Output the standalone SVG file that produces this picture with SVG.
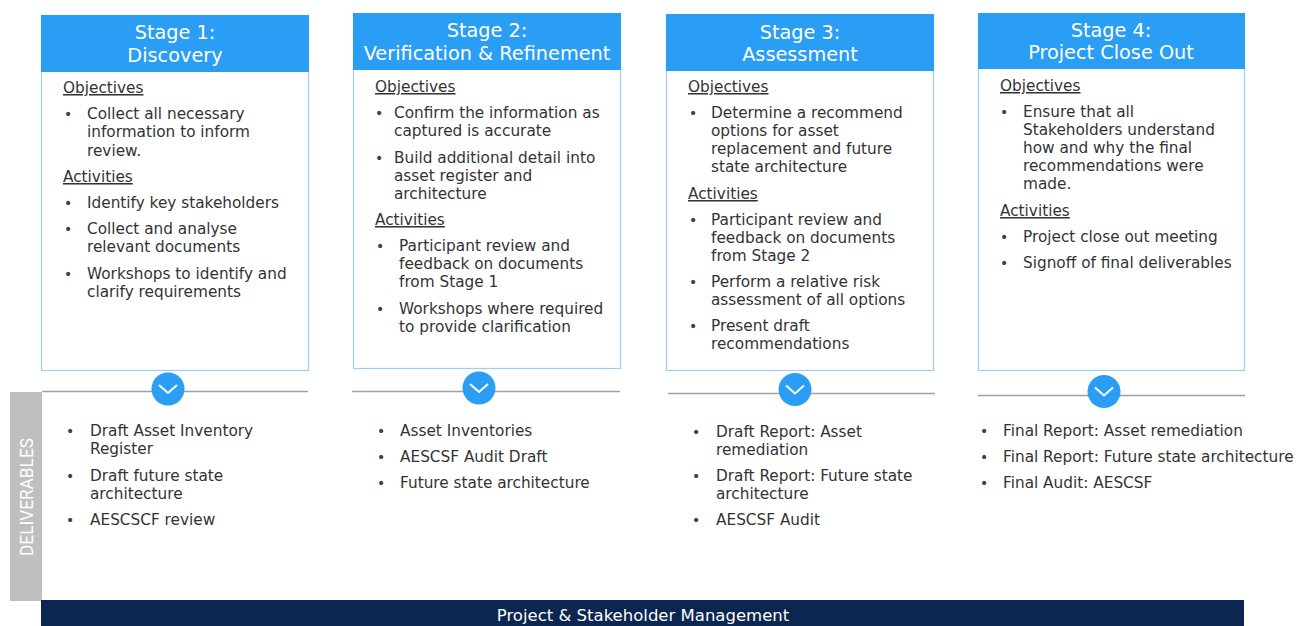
<svg xmlns="http://www.w3.org/2000/svg" width="1299" height="626" viewBox="0 0 1299 626">
<style>
.hdr{fill:#2a9df4}
.box{fill:#ffffff;stroke:#9ccff6;stroke-width:1.2}
.ttl{font-family:"DejaVu Sans",Verdana,sans-serif;font-size:19.3px;fill:#ffffff;text-anchor:middle}
.t{font-family:"DejaVu Sans",Verdana,sans-serif;font-size:15.3px;fill:#333333}
.h{font-family:"DejaVu Sans",Verdana,sans-serif;font-size:15.3px;fill:#333333;text-decoration:underline}
.b{font-family:"DejaVu Sans",Verdana,sans-serif;font-size:14px;fill:#404040}
.div{stroke:#a0a0a0;stroke-width:1.5}
.circ{fill:#2a9df4}
.chev{fill:none;stroke:#ffffff;stroke-width:2}
</style>

<g id="stage1">
<rect class="box" x="41.5" y="15.5" width="267" height="355"/>
<rect class="hdr" x="41" y="15" width="268" height="57"/>
<text class="ttl" x="175" y="39">Stage 1:</text>
<text class="ttl" x="175" y="62">Discovery</text>
<text class="h" x="63" y="93">Objectives</text>
<text class="b" x="64" y="119">•</text>
<text class="t" x="87" y="119">Collect all necessary</text>
<text class="t" x="87" y="137">information to inform</text>
<text class="t" x="87" y="156">review.</text>
<text class="h" x="63" y="182">Activities</text>
<text class="b" x="64" y="208">•</text>
<text class="t" x="87" y="208">Identify key stakeholders</text>
<text class="b" x="64" y="234">•</text>
<text class="t" x="87" y="234">Collect and analyse</text>
<text class="t" x="87" y="252">relevant documents</text>
<text class="b" x="64" y="279">•</text>
<text class="t" x="87" y="279">Workshops to identify and</text>
<text class="t" x="87" y="297">clarify requirements</text>
</g>

<g id="stage2">
<rect class="box" x="353.5" y="13.5" width="267" height="355"/>
<rect class="hdr" x="353" y="13" width="268" height="57"/>
<text class="ttl" x="487" y="37">Stage 2:</text>
<text class="ttl" x="487" y="60">Verification &amp; Refinement</text>
<text class="h" x="375" y="92">Objectives</text>
<text class="b" x="375" y="118">•</text>
<text class="t" x="394" y="118">Confirm the information as</text>
<text class="t" x="394" y="136">captured is accurate</text>
<text class="b" x="375" y="163">•</text>
<text class="t" x="394" y="163">Build additional detail into</text>
<text class="t" x="394" y="181">asset register and</text>
<text class="t" x="394" y="199">architecture</text>
<text class="h" x="375" y="225">Activities</text>
<text class="b" x="376" y="251">•</text>
<text class="t" x="399" y="251">Participant review and</text>
<text class="t" x="399" y="269">feedback on documents</text>
<text class="t" x="399" y="287">from Stage 1</text>
<text class="b" x="376" y="314">•</text>
<text class="t" x="399" y="314">Workshops where required</text>
<text class="t" x="399" y="332">to provide clarification</text>
</g>

<g id="stage3">
<rect class="box" x="666.5" y="14.5" width="267" height="356"/>
<rect class="hdr" x="666" y="14" width="268" height="57"/>
<text class="ttl" x="800" y="39">Stage 3:</text>
<text class="ttl" x="800" y="61">Assessment</text>
<text class="h" x="688" y="92">Objectives</text>
<text class="b" x="689" y="118">•</text>
<text class="t" x="711" y="118">Determine a recommend</text>
<text class="t" x="711" y="136">options for asset</text>
<text class="t" x="711" y="154">replacement and future</text>
<text class="t" x="711" y="172">state architecture</text>
<text class="h" x="688" y="199">Activities</text>
<text class="b" x="689" y="225">•</text>
<text class="t" x="711" y="225">Participant review and</text>
<text class="t" x="711" y="243">feedback on documents</text>
<text class="t" x="711" y="261">from Stage 2</text>
<text class="b" x="689" y="287">•</text>
<text class="t" x="711" y="287">Perform a relative risk</text>
<text class="t" x="711" y="305">assessment of all options</text>
<text class="b" x="689" y="331">•</text>
<text class="t" x="711" y="331">Present draft</text>
<text class="t" x="711" y="349">recommendations</text>
</g>

<g id="stage4">
<rect class="box" x="978.5" y="13.5" width="266" height="357"/>
<rect class="hdr" x="978" y="13" width="267" height="56"/>
<text class="ttl" x="1111" y="37">Stage 4:</text>
<text class="ttl" x="1111" y="59">Project Close Out</text>
<text class="h" x="1000" y="91">Objectives</text>
<text class="b" x="1000" y="117">•</text>
<text class="t" x="1023" y="117">Ensure that all</text>
<text class="t" x="1023" y="135">Stakeholders understand</text>
<text class="t" x="1023" y="153">how and why the final</text>
<text class="t" x="1023" y="171">recommendations were</text>
<text class="t" x="1023" y="189">made.</text>
<text class="h" x="1000" y="216">Activities</text>
<text class="b" x="1000" y="242">•</text>
<text class="t" x="1023" y="242">Project close out meeting</text>
<text class="b" x="1000" y="268">•</text>
<text class="t" x="1023" y="268">Signoff of final deliverables</text>
</g>

<g id="deliverables-label">
<rect x="10" y="392" width="32" height="209" fill="#bfbfbf"/>
<text x="0" y="0" transform="translate(33,497) rotate(-90)" font-family="Roboto,'Open Sans',sans-serif" font-size="18" fill="#ffffff" text-anchor="middle" textLength="118" lengthAdjust="spacingAndGlyphs">DELIVERABLES</text>
</g>

<g id="connectors">
<line class="div" x1="42" y1="391.5" x2="308" y2="391.5"/>
<line class="div" x1="352" y1="391.5" x2="620" y2="391.5"/>
<line class="div" x1="668" y1="393.5" x2="935" y2="393.5"/>
<line class="div" x1="978" y1="395.5" x2="1245" y2="395.5"/>
</g>

<g id="arrow1">
<circle class="circ" cx="168" cy="389" r="16.5"/>
<polyline class="chev" points="159,385 168,393 177,385"/>
</g>
<g id="arrow2">
<circle class="circ" cx="479" cy="388" r="16.5"/>
<polyline class="chev" points="470,384 479,392 488,384"/>
</g>
<g id="arrow3">
<circle class="circ" cx="795" cy="389.5" r="16.5"/>
<polyline class="chev" points="786,385.5 795,393.5 804,385.5"/>
</g>
<g id="arrow4">
<circle class="circ" cx="1104" cy="391.5" r="16.5"/>
<polyline class="chev" points="1095,387.5 1104,395.5 1113,387.5"/>
</g>

<g id="deliv1">
<text class="b" x="66" y="436">•</text>
<text class="t" x="90" y="436">Draft Asset Inventory</text>
<text class="t" x="90" y="454">Register</text>
<text class="b" x="66" y="481">•</text>
<text class="t" x="90" y="481">Draft future state</text>
<text class="t" x="90" y="499">architecture</text>
<text class="b" x="66" y="525">•</text>
<text class="t" x="90" y="525">AESCSCF review</text>
</g>

<g id="deliv2">
<text class="b" x="377" y="436">•</text>
<text class="t" x="400" y="436">Asset Inventories</text>
<text class="b" x="377" y="462">•</text>
<text class="t" x="400" y="462">AESCSF Audit Draft</text>
<text class="b" x="377" y="488">•</text>
<text class="t" x="400" y="488">Future state architecture</text>
</g>

<g id="deliv3">
<text class="b" x="692" y="437">•</text>
<text class="t" x="716" y="437">Draft Report: Asset</text>
<text class="t" x="716" y="455">remediation</text>
<text class="b" x="692" y="481">•</text>
<text class="t" x="716" y="481">Draft Report: Future state</text>
<text class="t" x="716" y="499">architecture</text>
<text class="b" x="692" y="525">•</text>
<text class="t" x="716" y="525">AESCSF Audit</text>
</g>

<g id="deliv4">
<text class="b" x="980" y="436">•</text>
<text class="t" x="1003" y="436">Final Report: Asset remediation</text>
<text class="b" x="980" y="462">•</text>
<text class="t" x="1003" y="462">Final Report: Future state architecture</text>
<text class="b" x="980" y="488">•</text>
<text class="t" x="1003" y="488">Final Audit: AESCSF</text>
</g>

<g id="footer">
<rect x="41" y="600" width="1203" height="26" fill="#0b2650"/>
<text x="643" y="621" font-family="'DejaVu Sans',Verdana,sans-serif" font-size="16.5" fill="#ffffff" text-anchor="middle">Project &amp; Stakeholder Management</text>
</g>
</svg>
